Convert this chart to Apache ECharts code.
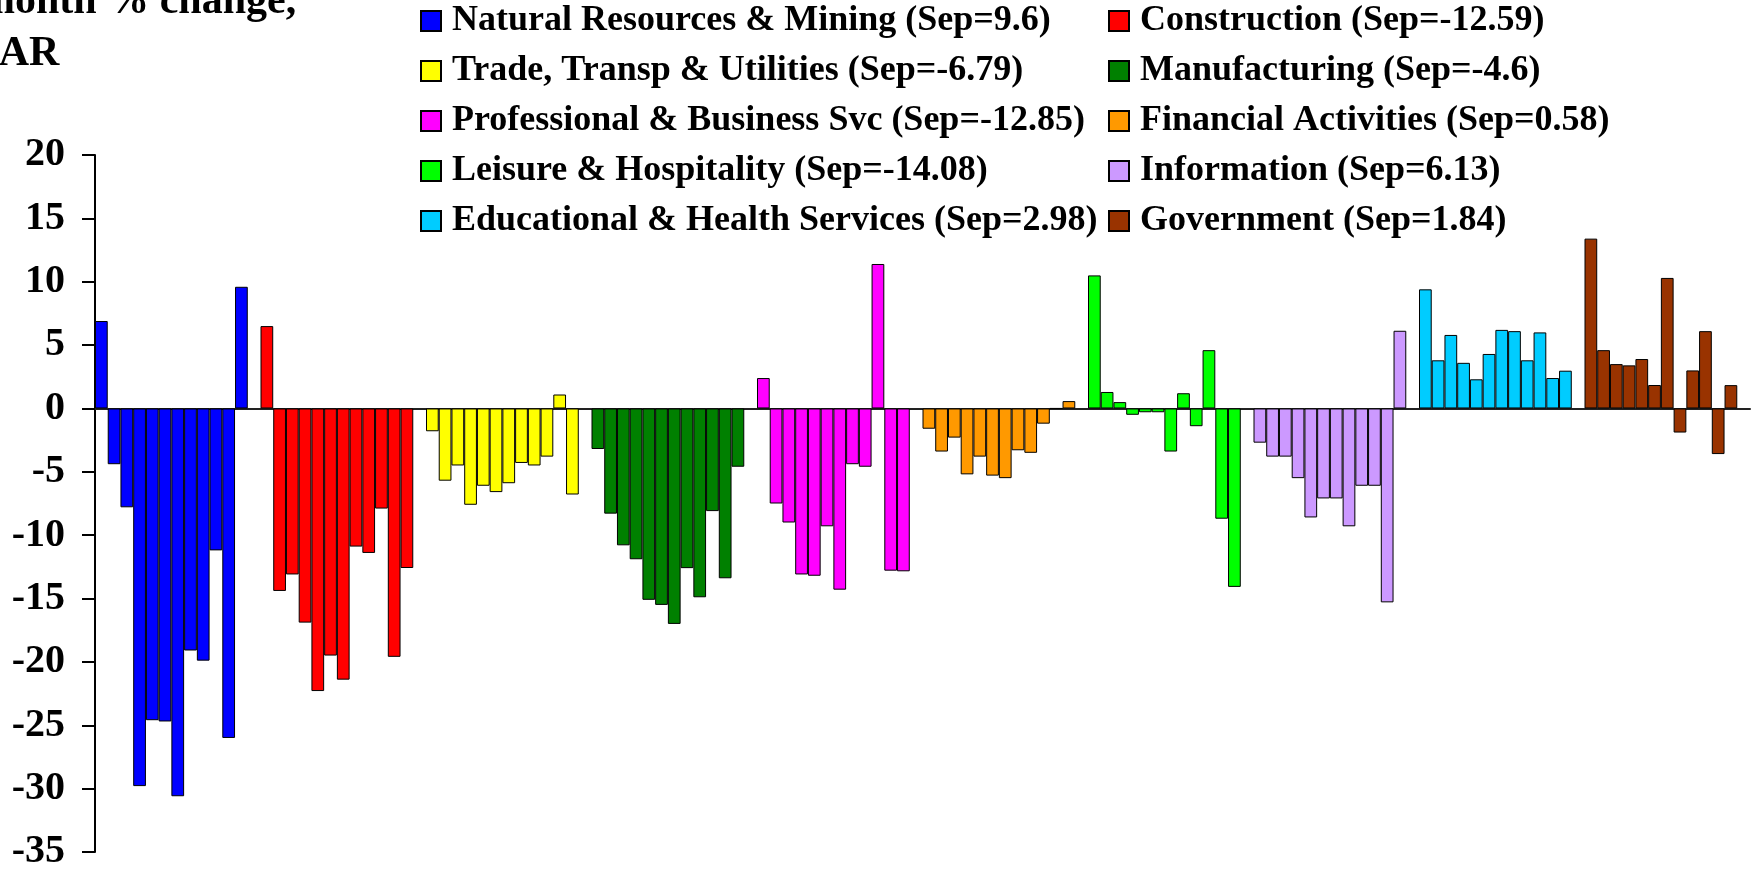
<!DOCTYPE html>
<html>
<head>
<meta charset="utf-8">
<script src="https://cdn.jsdelivr.net/npm/echarts@6/dist/echarts.min.js"></script>
<style>
	html,body{margin:0;padding:0;background:#fff;}
</style>
</head>
<body>
<div id="mainChart" style="width:1758px;height:872px"></div>
<script>
	// 12 months per sector, last one is September
	var months = ['Oct','Nov','Dec','Jan','Feb','Mar','Apr','May','Jun','Jul','Aug','Sep'];

	var sectorNames = [
		'Natural Resources & Mining',
		'Construction',
		'Trade, Transp & Utilities',
		'Manufacturing',
		'Professional & Business Svc',
		'Financial Activities',
		'Leisure & Hospitality',
		'Information',
		'Educational & Health Services',
		'Government'
	];

	var naturalResources = [6.9, -4.4, -7.8, -29.8, -24.6, -24.7, -30.6, -19.1, -19.9, -11.2, -26.0, 9.6];
	var construction = [6.5, -14.4, -13.1, -16.9, -22.3, -19.5, -21.4, -10.9, -11.4, -7.9, -19.6, -12.59];
	var tradeTransp = [-1.8, -5.7, -4.5, -7.6, -6.1, -6.6, -5.9, -4.3, -4.5, -3.8, 1.1, -6.79];
	var manufacturing = [-3.2, -8.3, -10.8, -11.9, -15.1, -15.5, -17.0, -12.6, -14.9, -8.1, -13.4, -4.6];
	var professional = [2.4, -7.5, -9.0, -13.1, -13.2, -9.3, -14.3, -4.4, -4.6, 11.4, -12.8, -12.85];
	var financial = [-1.6, -3.4, -2.3, -5.2, -3.8, -5.3, -5.5, -3.3, -3.5, -1.2, 0, 0.58];
	var leisure = [10.5, 1.3, 0.5, -0.5, -0.3, -0.3, -3.4, 1.2, -1.4, 4.6, -8.7, -14.08];
	var information = [-2.7, -3.8, -3.8, -5.5, -8.6, -7.1, -7.1, -9.3, -6.1, -6.1, -15.3, 6.13];
	var education = [9.4, 3.8, 5.8, 3.6, 2.3, 4.3, 6.2, 6.1, 3.8, 6.0, 2.4, 2.98];
	var government = [13.4, 4.6, 3.5, 3.4, 3.9, 1.85, 10.3, -1.9, 3.0, 6.1, -3.6, 1.84];

	var sectorValues = [naturalResources, construction, tradeTransp, manufacturing, professional,
		financial, leisure, information, education, government];

	var yTicks = [-35, -30, -25, -20, -15, -10, -5, 0, 5, 10, 15, 20];

	var colors = ['#0000FF','#FF0000','#FFFF00','#008000','#FF00FF','#FF9900','#00FF00','#CC99FF','#00CCFF','#993300'];

	// each sector takes 12 slots plus one empty slot after it
	var slotsPerGroup = months.length + 1;
	var categories = [];
	sectorNames.forEach(function(name){
		months.forEach(function(m){ categories.push(name + ' ' + m); });
		categories.push(name + ' gap');
	});

	var series = sectorNames.map(function(name, i){
		var data = categories.map(function(){ return '-'; });
		sectorValues[i].forEach(function(v, k){ data[i * slotsPerGroup + k] = v; });
		return {
			name: name,
			type: 'bar',
			data: data,
			barWidth: '100%',
			barGap: '-100%',
			itemStyle: {
				color: colors[i],
				borderColor: '#000',
				borderWidth: 1
			}
		};
	});

	function sepLabel(name){
		var vals = sectorValues[sectorNames.indexOf(name)];
		return name + ' (Sep=' + vals[vals.length - 1] + ')';
	}

	var legendText = {
		fontFamily: 'Liberation Serif',
		fontWeight: 'bold',
		fontSize: 36,
		lineHeight: 36,
		color: '#000',
		padding: [0, 0, 0, 6]
	};

	var options = {
		animation: false,
		backgroundColor: '#fff',
		title: {
			text: '3-month % change,\nSAAR',
			left: -55,
			top: -24,
			padding: 0,
			textStyle: {
				fontFamily: 'Liberation Serif',
				fontWeight: 'bold',
				fontSize: 42,
				lineHeight: 52,
				color: '#000'
			}
		},
		legend: [{
			data: [sectorNames[0], sectorNames[2], sectorNames[4], sectorNames[6], sectorNames[8]],
			orient: 'vertical',
			left: 420,
			top: 3,
			padding: 0,
			itemWidth: 20,
			itemHeight: 20,
			itemGap: 14,
			icon: 'rect',
			formatter: sepLabel,
			textStyle: legendText
		},{
			data: [sectorNames[1], sectorNames[3], sectorNames[5], sectorNames[7], sectorNames[9]],
			orient: 'vertical',
			left: 1108,
			top: 3,
			padding: 0,
			itemWidth: 20,
			itemHeight: 20,
			itemGap: 14,
			icon: 'rect',
			formatter: sepLabel,
			textStyle: legendText
		}],
		grid: {
			left: 95,
			right: 8,
			top: 155,
			bottom: 12,
			containLabel: false
		},
		xAxis: {
			type: 'category',
			data: categories,
			boundaryGap: true,
			axisLine: {
				onZero: true,
				lineStyle: { color: '#222', width: 2 }
			},
			axisTick: { show: false },
			axisLabel: { show: false },
			splitLine: { show: false }
		},
		yAxis: {
			type: 'value',
			min: yTicks[0],
			max: yTicks[yTicks.length - 1],
			interval: 5,
			axisLine: {
				show: true,
				lineStyle: { color: '#000', width: 2 }
			},
			axisTick: {
				show: true,
				inside: false,
				length: 13,
				lineStyle: { color: '#000', width: 2 }
			},
			axisLabel: {
				margin: 30,
				fontFamily: 'Liberation Serif',
				fontWeight: 'bold',
				fontSize: 40,
				color: '#000'
			},
			splitLine: { show: false }
		},
		series: series
	};

	var mainChart = echarts.init(document.getElementById('mainChart'));
	mainChart.setOption(options);
</script>
</body>
</html>
